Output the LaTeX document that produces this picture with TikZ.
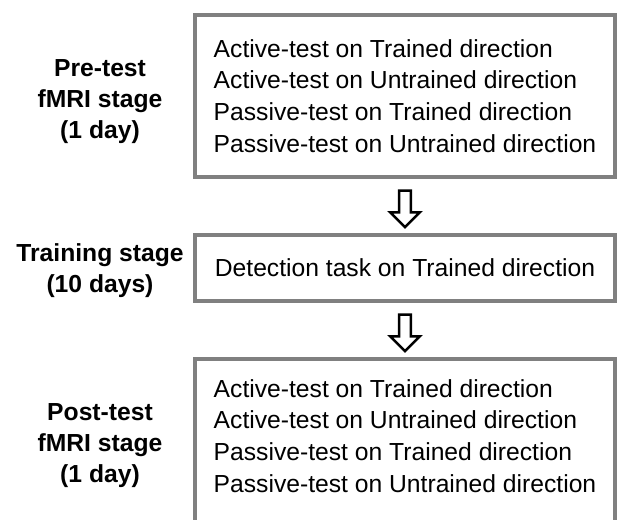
\documentclass[tikz,border=0pt]{standalone}
\usepackage{fontspec}
\setmainfont{Liberation Sans}
\usetikzlibrary{shapes.arrows,calc}

\tikzset{
  stagetext/.style={align=left, font=\fontsize{18.5}{23.8}\selectfont},
  stagebox/.style={stagetext, draw=gray, line width=3pt, minimum width=315pt},
  stagelabel/.style={align=center, font=\fontsize{18.5}{23.3}\selectfont\bfseries},
  downarrow/.style={single arrow, draw=black, line width=1.9pt, rotate=-90,
    inner xsep=0pt, inner ysep=3.4pt, single arrow head extend=6.75pt,
    minimum height=27.4pt}
}

\begin{document}
\begin{tikzpicture}[x=0.75pt,y=-0.75pt]
    \clip (0,0) rectangle (619,519);

    % Boxen rechts
    \node[stagebox, minimum height=121.5pt] (pre) at (405,96)
        {Active-test on Trained direction\\
         Active-test on Untrained direction\\
         Passive-test on Trained direction\\
         Passive-test on Untrained direction};
    \node[stagebox, minimum height=49.5pt] (train) at (405,268)
        {Detection task on Trained direction};
    % unten abgeschnitten
    \node[stagebox, minimum height=140pt, anchor=north] (post) at (405,357) {};
    \node[stagetext] (postlist) at (405,436)
        {Active-test on Trained direction\\
         Active-test on Untrained direction\\
         Passive-test on Trained direction\\
         Passive-test on Untrained direction};

    % Beschriftung links
    \node[stagelabel] (prelabel) at (100,101.5) {Pre-test\\fMRI stage\\(1 day)};
    \node[stagelabel] (trainlabel) at (100,270.5) {Training stage\\(10 days)};
    \node[stagelabel] (postlabel) at (100,445.5) {Post-test\\fMRI stage\\(1 day)};

    % Pfeile
    \node[downarrow] (down1) at ($(pre.south)!0.5!(train.north)$) {};
    \node[downarrow] (down2) at ($(train.south)!0.5!(post.north)$) {};
\end{tikzpicture}
\end{document}
